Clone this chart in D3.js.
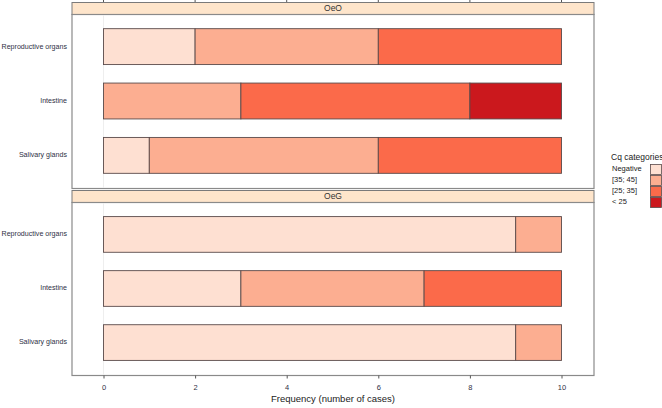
<!DOCTYPE html>
<html><head><meta charset="utf-8">
<script src="https://cdn.jsdelivr.net/npm/d3@7"></script>
<style>body{margin:0;background:#fff}svg{display:block}text{font-family:"Liberation Sans",Arial,sans-serif}</style>
</head><body><svg id="c" width="662" height="408"></svg>
<script>
const panels = ["OeO", "OeG"];
const organs = ["Reproductive organs", "Intestine", "Salivary glands"];
const categories = ["Negative", "[35; 45]", "[25; 35]", "< 25"];
const colors = ["#FEE0D2", "#FCAE91", "#FB6A4A", "#CB181D"];
// counts per organ, per category
const oeoValues = [[2, 4, 4, 0], [0, 3, 5, 2], [1, 5, 4, 0]];
const oegValues = [[9, 1, 0, 0], [3, 4, 3, 0], [9, 1, 0, 0]];
const xTicks = [0, 2, 4, 6, 8, 10];
const xTitle = "Frequency (number of cases)";
const legendTitle = "Cq categories";

const svg = d3.select("#c");
const L = 72, R = 594;
const x = d3.scaleLinear().domain([(L - 103.5) / 45.8, (R - 103.5) / 45.8]).range([L, R]);
const stripH = 12;
const panelDefs = [
  {name: panels[0], values: oeoValues, top: 2},
  {name: panels[1], values: oegValues, top: 190}
];
const bottom = [188, 375];
const textCol = "#2f3045";

// top cut-off tick marks
xTicks.forEach(t => svg.append("line").attr("x1", x(t)).attr("x2", x(t)).attr("y1", 0).attr("y2", 2)
  .attr("stroke", "#555").attr("stroke-width", 1));

panelDefs.forEach((p, i) => {
  const bodyTop = p.top + stripH;
  const bodyBot = bottom[i];
  const y = d3.scalePoint().domain(organs).range([bodyTop, bodyBot]).padding(0.6);
  const bh = y.step() * 0.66;
  // strip
  svg.append("rect").attr("x", L).attr("y", p.top + 0.5).attr("width", R - L).attr("height", stripH)
    .attr("fill", "#FEE5CB").attr("stroke", "#7a7a7a").attr("stroke-width", 1);
  svg.append("text").attr("x", (L + R) / 2).attr("y", p.top + stripH / 2 + 1).attr("text-anchor", "middle")
    .attr("dominant-baseline", "middle").attr("font-size", 8.5).attr("fill", "#333").text(p.name);
  // panel
  svg.append("rect").attr("x", L).attr("y", bodyTop + 0.5).attr("width", R - L).attr("height", bodyBot - bodyTop)
    .attr("fill", "#fff").attr("stroke", "#8a8a8a").attr("stroke-width", 1.2);
  // faint gridline at 0
  svg.append("line").attr("x1", x(0)).attr("x2", x(0)).attr("y1", bodyTop + 1).attr("y2", bodyBot)
    .attr("stroke", "#eeeeee").attr("stroke-width", 1);
  organs.forEach((o, j) => {
    let cum = 0;
    p.values[j].forEach((v, k) => {
      if (v > 0) {
        svg.append("rect").attr("x", x(cum)).attr("y", y(o) - bh / 2).attr("width", x(cum + v) - x(cum))
          .attr("height", bh).attr("fill", colors[k]).attr("stroke", "#5a4a4a").attr("stroke-width", 0.9);
      }
      cum += v;
    });
    svg.append("text").attr("x", 67).attr("y", y(o)).attr("text-anchor", "end")
      .attr("dominant-baseline", "middle").attr("font-size", 7.1).attr("fill", textCol).text(o);
  });
});

// x axis
const ax = svg.append("g").attr("transform", `translate(0,${bottom[1] + 0.5})`)
  .call(d3.axisBottom(x).tickValues(xTicks).tickSize(3).tickSizeOuter(0).tickPadding(6).tickFormat(d3.format("d")));
ax.select(".domain").remove();
ax.selectAll(".tick line").attr("stroke", "#555");
ax.selectAll("text").attr("font-size", 7.5).attr("fill", textCol).attr("font-family", '"Liberation Sans",Arial,sans-serif');
svg.append("text").attr("x", (L + R) / 2).attr("y", 402).attr("text-anchor", "middle")
  .attr("font-size", 9.5).attr("fill", "#222").text(xTitle);

// legend
svg.append("text").attr("x", 611).attr("y", 160).attr("font-size", 8.5).attr("fill", "#222").text(legendTitle);
categories.forEach((c, k) => {
  const yy = 164 + k * 11;
  svg.append("rect").attr("x", 650.5).attr("y", yy + 0.5).attr("width", 11).attr("height", 10)
    .attr("fill", colors[k]).attr("stroke", "#5a4a4a").attr("stroke-width", 0.8);
  svg.append("text").attr("x", 612).attr("y", yy + 5.5).attr("dominant-baseline", "middle")
    .attr("font-size", 7.5).attr("fill", "#222").text(c);
});
</script></body></html>
